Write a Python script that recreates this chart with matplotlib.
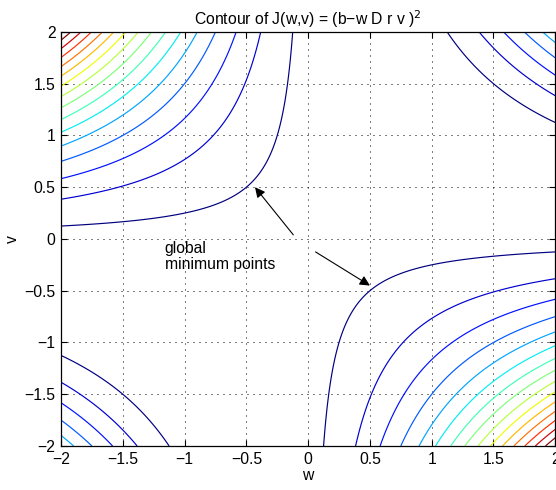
import numpy as np
import matplotlib.pyplot as plt

plt.rcParams['font.family'] = ['Liberation Sans', 'DejaVu Sans']
plt.rcParams['axes.unicode_minus'] = True

# J(w,v) = (b - w*Dr*v)^2 on a square grid
b = 1.0
Dr = 1.0
w_lim = [-2, 2]
v_lim = [-2, 2]
ticks = [-2, -1.5, -1, -0.5, 0, 0.5, 1, 1.5, 2]
n_levels = 15
J_max = 25.0

w = np.linspace(w_lim[0], w_lim[1], 401)
v = np.linspace(v_lim[0], v_lim[1], 401)
W, V = np.meshgrid(w, v)
J = (b - W * Dr * V) ** 2
levels = np.linspace(0, J_max, n_levels + 2)[1:-1]

fs = 11.3
fig = plt.figure(figsize=(5.56, 4.90), dpi=100)
ax = fig.add_axes([0.1097, 0.0898, 0.889, 0.845])

ax.contour(W, V, J, levels=levels, cmap='jet', linewidths=0.85)

ax.set_xlim(w_lim)
ax.set_ylim(v_lim)
ax.set_xticks(ticks)
ax.set_yticks(ticks)
ax.set_xticklabels([f"{t:g}".replace('-', '\u2212') for t in ticks])
ax.set_yticklabels([f"{t:g}".replace('-', '\u2212') for t in ticks])
ax.tick_params(direction='in', length=4, top=True, right=True, labelsize=fs, width=0.8, pad=4)
ax.grid(True, color='k', linestyle=(0, (1, 5)), linewidth=0.72)
for s in ax.spines.values():
    s.set_linewidth(0.9)

ax.set_title("Contour of J(w,v) = (b\u2212w D r v )$^2$", fontsize=fs, pad=5)
ax.set_xlabel("w", fontsize=fs, labelpad=1)
ax.set_ylabel("v", fontsize=fs, labelpad=3)

ax.text(-1.16, -0.02, "global\nminimum points", fontsize=fs, va='top', ha='left', linespacing=1.1)
arrow = dict(arrowstyle='-|>', color='k', lw=0.8, mutation_scale=15, shrinkA=0, shrinkB=0)
ax.annotate("", xy=(-0.43, 0.50), xytext=(-0.12, 0.04), arrowprops=arrow)
ax.annotate("", xy=(0.50, -0.45), xytext=(0.06, -0.125), arrowprops=arrow)

fig.savefig("out.png", dpi=100)
